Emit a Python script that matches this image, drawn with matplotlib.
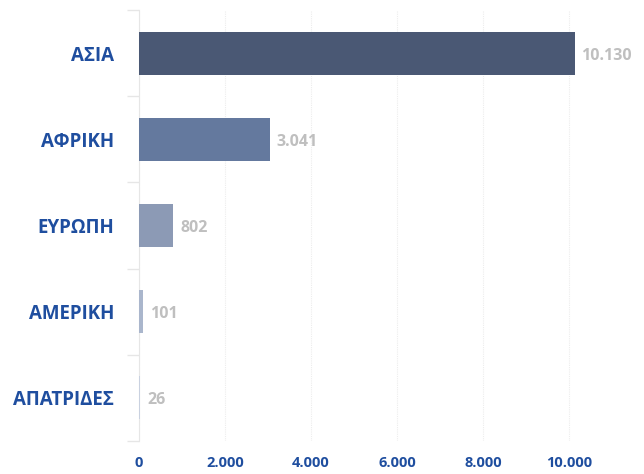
import matplotlib
matplotlib.use("Agg")
import matplotlib.pyplot as plt

categories = ["ΑΣΙΑ", "ΑΦΡΙΚΗ", "ΕΥΡΩΠΗ", "ΑΜΕΡΙΚΗ", "ΑΠΑΤΡΙΔΕΣ"]
values = [10130, 3041, 802, 101, 26]
value_labels = ["10.130", "3.041", "802", "101", "26"]
bar_colors = ["#4a5874", "#64799e", "#8c9ab5", "#aab6cc", "#c9d1e0"]
xticks = [0, 2000, 4000, 6000, 8000, 10000]
xtick_labels = ["0", "2.000", "4.000", "6.000", "8.000", "10.000"]

plt.rcParams['font.family'] = ['Open Sans', 'DejaVu Sans']

fig = plt.figure(figsize=(6.44, 4.74), dpi=100)
ax = fig.add_axes([139/644, 1-441/474, 501/644, 431/474])

y = list(range(len(categories)))
ax.barh(y, values, height=0.5, color=bar_colors, zorder=3)
ax.set_ylim(len(categories)-0.5, -0.5)
ax.set_xlim(0, 11650)

for yi, v, lab in zip(y, values, value_labels):
    ax.text(v + 160, yi + 0.03, lab, va='center', ha='left', fontsize=11.5,
            fontweight='bold', color='#bfbfbf', zorder=4)

ax.set_yticks(y)
ax.set_yticklabels(categories, fontsize=13.5, fontweight='bold', color='#1f4e9f')
ax.tick_params(axis='y', length=0, pad=18)
ax.set_yticks([i - 0.5 for i in range(len(categories)+1)], minor=True)
ax.tick_params(axis='y', which='minor', length=9, color='#e6e6e6', width=1)

ax.set_xticks(xticks)
ax.set_xticklabels(xtick_labels, fontsize=10.5, fontweight='bold', color='#1f4e9f')
ax.tick_params(axis='x', length=0, pad=11)

ax.grid(axis='x', color='#ededed', linestyle=(0, (1, 1)), linewidth=0.8, zorder=0)
for s in ['top', 'right', 'bottom']:
    ax.spines[s].set_visible(False)
ax.spines['left'].set_color('#e6e6e6')

fig.savefig("out.png", dpi=100, facecolor='white')
